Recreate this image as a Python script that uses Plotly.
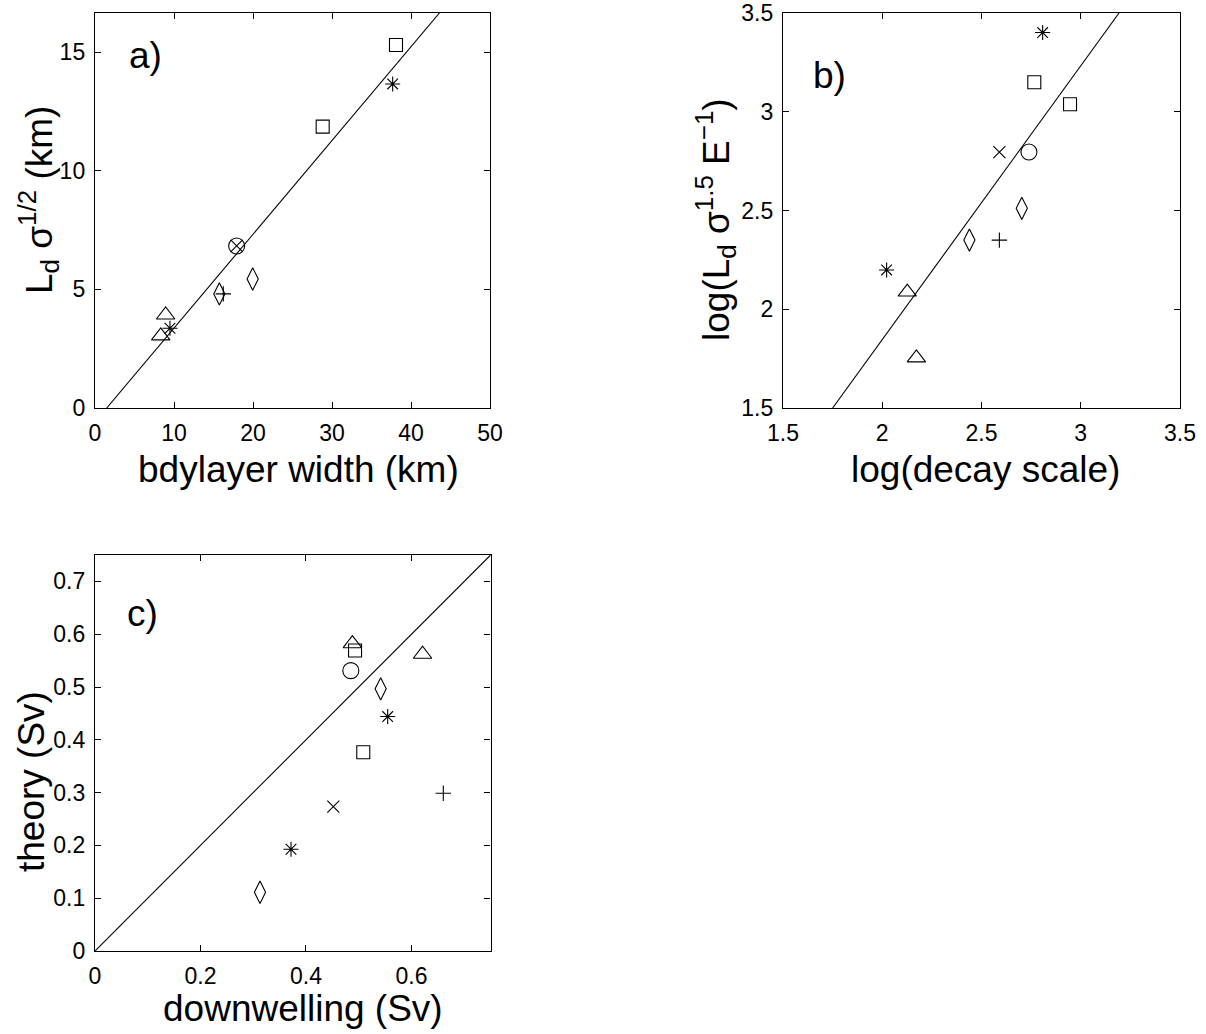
import plotly.graph_objects as go

W, H = 1206, 1034
FONT = "Liberation Sans, Arial, sans-serif"

# ---------------- Panel a data ----------------
a_square_x = [38.1, 28.82]
a_square_y = [15.3, 11.86]
a_star_x = [37.68, 9.49]
a_star_y = [13.66, 3.36]
a_circle_x = [17.93]
a_circle_y = [6.83]
a_cross_x = [17.93]
a_cross_y = [6.83]
a_diamond_x = [19.96, 15.74]
a_diamond_y = [5.44, 4.81]
a_plus_x = [16.24]
a_plus_y = [4.81]
a_triangle_x = [8.94, 8.32]
a_triangle_y = [3.92, 3.04]
a_fit_x = [1.48, 43.6]
a_fit_y = [0.0, 16.65]
a_xticks = [0, 10, 20, 30, 40, 50]
a_yticks = [0, 5, 10, 15]

# ---------------- Panel b data ----------------
b_star_x = [2.808, 2.022]
b_star_y = [3.401, 2.199]
b_square_x = [2.766, 2.946]
b_square_y = [3.149, 3.038]
b_cross_x = [2.590]
b_cross_y = [2.796]
b_circle_x = [2.739]
b_circle_y = [2.796]
b_diamond_x = [2.703, 2.439]
b_diamond_y = [2.511, 2.350]
b_plus_x = [2.590]
b_plus_y = [2.350]
b_triangle_x = [2.126, 2.172]
b_triangle_y = [2.087, 1.754]
b_fit_x = [1.75, 3.193]
b_fit_y = [1.5, 3.5]
b_ticks = [1.5, 2, 2.5, 3, 3.5]
b_ticklabels = ["1.5", "2", "2.5", "3", "3.5"]

# ---------------- Panel c data ----------------
c_triangle_x = [0.488, 0.621]
c_triangle_y = [0.582, 0.562]
c_square_x = [0.493, 0.5086]
c_square_y = [0.569, 0.3765]
c_circle_x = [0.485]
c_circle_y = [0.531]
c_diamond_x = [0.5416, 0.3128]
c_diamond_y = [0.4965, 0.1112]
c_star_x = [0.5549, 0.3716]
c_star_y = [0.444, 0.1927]
c_plus_x = [0.6603]
c_plus_y = [0.2988]
c_cross_x = [0.4518]
c_cross_y = [0.2735]
c_fit_x = [0.0, 0.75]
c_fit_y = [0.0, 0.75]
c_xticks = [0, 0.2, 0.4, 0.6]
c_xticklabels = ["0", "0.2", "0.4", "0.6"]
c_yticks = [0, 0.1, 0.2, 0.3, 0.4, 0.5, 0.6, 0.7]
c_yticklabels = ["0", "0.1", "0.2", "0.3", "0.4", "0.5", "0.6", "0.7"]

# marker styles (symbol, size)
STY = {
    "square": ("square-open", 13),
    "star": ("asterisk-open", 12.5),
    "circle": ("circle-open", 16),
    "cross": ("x-thin-open", 12),
    "diamond": ("diamond-tall-open", 16),
    "plus": ("cross-thin-open", 11),
    "triangle": ("triangle-up-open", 16),
}

fig = go.Figure()


def add_pts(x, y, kind, xa, ya):
    sym, size = STY[kind]
    fig.add_trace(go.Scatter(
        x=x, y=y, mode="markers", xaxis=xa, yaxis=ya, showlegend=False,
        marker=dict(symbol=sym, size=size, color="black",
                    line=dict(color="black", width=1.1)),
        hoverinfo="x+y"))


def add_line(x, y, xa, ya):
    fig.add_trace(go.Scatter(
        x=x, y=y, mode="lines", xaxis=xa, yaxis=ya, showlegend=False,
        line=dict(color="black", width=1.1), hoverinfo="skip"))


# panel a
add_line(a_fit_x, a_fit_y, "x", "y")
add_pts(a_square_x, a_square_y, "square", "x", "y")
add_pts(a_star_x, a_star_y, "star", "x", "y")
add_pts(a_circle_x, a_circle_y, "circle", "x", "y")
add_pts(a_cross_x, a_cross_y, "cross", "x", "y")
add_pts(a_diamond_x, a_diamond_y, "diamond", "x", "y")
add_pts(a_plus_x, a_plus_y, "plus", "x", "y")
add_pts(a_triangle_x, a_triangle_y, "triangle", "x", "y")

# panel b
add_line(b_fit_x, b_fit_y, "x2", "y2")
add_pts(b_star_x, b_star_y, "star", "x2", "y2")
add_pts(b_square_x, b_square_y, "square", "x2", "y2")
add_pts(b_cross_x, b_cross_y, "cross", "x2", "y2")
add_pts(b_circle_x, b_circle_y, "circle", "x2", "y2")
add_pts(b_diamond_x, b_diamond_y, "diamond", "x2", "y2")
add_pts(b_plus_x, b_plus_y, "plus", "x2", "y2")
add_pts(b_triangle_x, b_triangle_y, "triangle", "x2", "y2")

# panel c
add_line(c_fit_x, c_fit_y, "x3", "y3")
add_pts(c_triangle_x, c_triangle_y, "triangle", "x3", "y3")
add_pts(c_square_x, c_square_y, "square", "x3", "y3")
add_pts(c_circle_x, c_circle_y, "circle", "x3", "y3")
add_pts(c_diamond_x, c_diamond_y, "diamond", "x3", "y3")
add_pts(c_star_x, c_star_y, "star", "x3", "y3")
add_pts(c_plus_x, c_plus_y, "plus", "x3", "y3")
add_pts(c_cross_x, c_cross_y, "cross", "x3", "y3")


def px_x(p):
    return p / W


def px_y(p):
    return 1 - p / H


def axis(domain, rng, tickvals, ticktext=None, anchor=None):
    d = dict(
        domain=domain, range=rng, tickmode="array", tickvals=tickvals,
        showline=True, linecolor="black", linewidth=1.4, mirror="ticks",
        ticks="inside", ticklen=6, tickwidth=1, tickcolor="black",
        showgrid=False, zeroline=False, automargin=False,
        tickfont=dict(family=FONT, size=23, color="black"),
        anchor=anchor, fixedrange=True,
        ticklabelstandoff=4, ticklabeloverflow="allow",
    )
    if ticktext is not None:
        d["ticktext"] = ticktext
    return d


ya_dom = [px_y(408), px_y(13)]
yc_dom = [px_y(951), px_y(555)]

fig.update_layout(
    width=W, height=H,
    margin=dict(l=0, r=0, t=0, b=0, pad=0, autoexpand=False),
    paper_bgcolor="white", plot_bgcolor="white",
    font=dict(family=FONT, color="black"),
    xaxis=axis([px_x(95), px_x(490)], [0, 50], a_xticks, anchor="y"),
    yaxis=axis(ya_dom, [0, 16.65], a_yticks, anchor="x"),
    xaxis2=axis([px_x(783), px_x(1180)], [1.5, 3.5], b_ticks, b_ticklabels, anchor="y2"),
    yaxis2=axis(ya_dom, [1.5, 3.5], b_ticks, b_ticklabels, anchor="x2"),
    xaxis3=axis([px_x(95), px_x(490.6)], [0, 0.75], c_xticks, c_xticklabels, anchor="y3"),
    yaxis3=axis(yc_dom, [0, 0.75], c_yticks, c_yticklabels, anchor="x3"),
)

TITLE = 37
LABEL = 37
ann = [
    # x titles
    dict(text="bdylayer width (km)", x=px_x(298), y=px_y(469), size=TITLE, angle=0),
    dict(text="log(decay scale)", x=px_x(985), y=px_y(469), size=TITLE, angle=0),
    dict(text="downwelling (Sv)", x=px_x(303), y=px_y(1008), size=TITLE, angle=0),
    # y titles
    dict(text="L<sub>d</sub> σ<sup>1/2</sup> (km)", x=px_x(38), y=px_y(200), size=TITLE, angle=-90),
    dict(text="log(L<sub>d</sub> σ<sup>1.5</sup> E<sup>−1</sup>)", x=px_x(716), y=px_y(220), size=TITLE, angle=-90),
    dict(text="theory (Sv)", x=px_x(31), y=px_y(782), size=TITLE, angle=-90),
    # panel labels
    dict(text="a)", x=px_x(145), y=px_y(55), size=LABEL, angle=0),
    dict(text="b)", x=px_x(829), y=px_y(75), size=LABEL, angle=0),
    dict(text="c)", x=px_x(142), y=px_y(613), size=LABEL, angle=0),
]
for a in ann:
    fig.add_annotation(
        text=a["text"], x=a["x"], y=a["y"], xref="paper", yref="paper",
        xanchor="center", yanchor="middle", showarrow=False, borderpad=0,
        textangle=a["angle"], font=dict(family=FONT, size=a["size"], color="black"))

# remove the default page margin so the figure sits at the window's corner
fig.write_html("out.html", config={"displayModeBar": False},
               post_script="document.body.style.margin='0';")
